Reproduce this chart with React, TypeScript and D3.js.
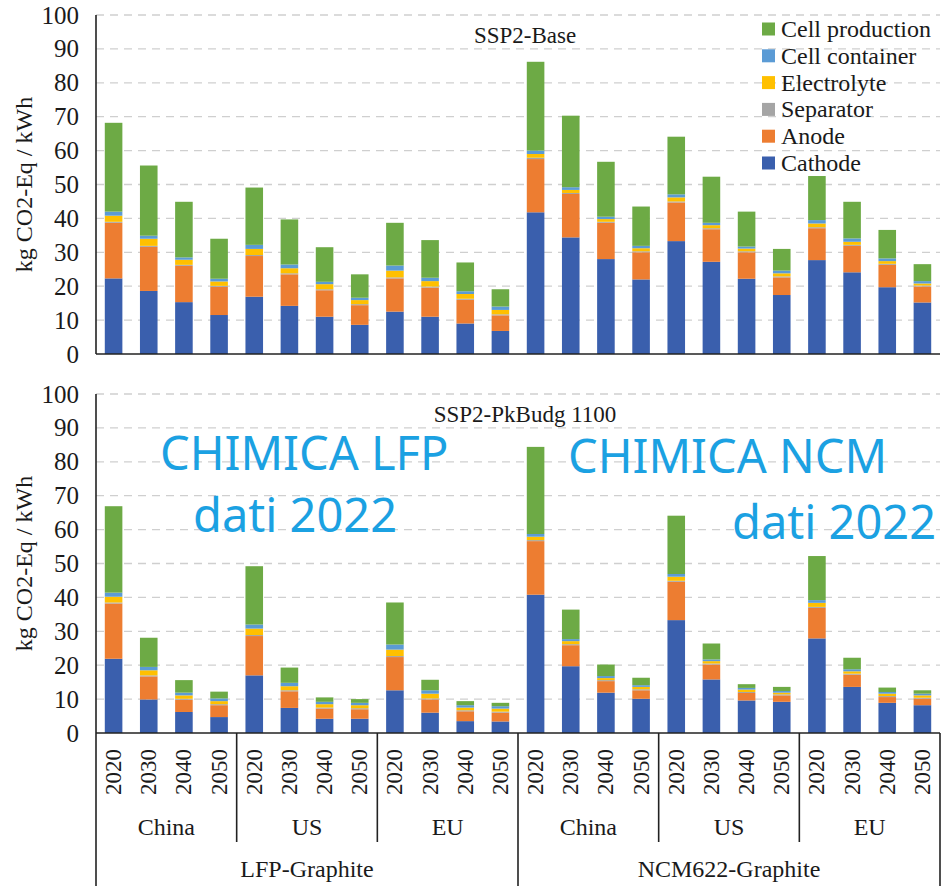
import React from "react";
import * as d3 from "d3";

// ---------- data ----------
const years = ["2020", "2030", "2040", "2050"];
const regions = ["China", "US", "EU"];
const chemistries = ["LFP-Graphite", "NCM622-Graphite"];
const components = ["Cathode", "Anode", "Separator", "Electrolyte", "Cell container", "Cell production"];
const componentColors = ["#3A5FAD", "#ED7D31", "#A5A5A5", "#FFC000", "#5B9BD5", "#6DAA45"];
const yTicks = [0, 10, 20, 30, 40, 50, 60, 70, 80, 90, 100];
const panelTitles = ["SSP2-Base", "SSP2-PkBudg 1100"];

// SSP2-Base (24 bars: LFP China/US/EU x 4 years, then NCM622)
const baseCathode = [22.3, 18.6, 15.3, 11.5, 16.9, 14.2, 11.0, 8.6, 12.5, 11.0, 9.0, 6.8,
  41.8, 34.4, 28.0, 22.0, 33.3, 27.2, 22.2, 17.4, 27.7, 24.1, 19.7, 15.2];
const baseAnode = [16.4, 13.0, 10.7, 8.3, 12.0, 9.3, 7.8, 5.8, 9.8, 8.6, 7.0, 4.6,
  15.7, 12.8, 10.7, 8.0, 11.4, 9.6, 7.8, 5.2, 9.4, 7.8, 6.6, 4.7];
const baseSeparator = [0.3, 0.3, 0.3, 0.3, 0.3, 0.3, 0.3, 0.3, 0.3, 0.3, 0.3, 0.3,
  0.4, 0.3, 0.3, 0.3, 0.3, 0.3, 0.3, 0.3, 0.3, 0.3, 0.3, 0.3];
const baseElectrolyte = [1.8, 2.1, 1.5, 1.3, 1.8, 1.5, 1.5, 1.2, 2.0, 1.6, 1.4, 1.3,
  1.1, 0.9, 0.8, 0.9, 1.2, 0.9, 0.8, 0.9, 1.1, 0.9, 0.8, 0.6];
const baseContainer = [1.2, 0.9, 0.7, 0.8, 1.2, 1.1, 0.7, 0.7, 1.5, 1.0, 0.8, 1.0,
  1.0, 0.8, 0.7, 0.7, 0.9, 0.7, 0.6, 0.8, 1.0, 1.0, 0.8, 0.7];
const baseCellProduction = [26.2, 20.7, 16.4, 11.8, 16.9, 13.3, 10.2, 6.9, 12.6, 11.1, 8.5, 5.1,
  26.2, 21.1, 16.2, 11.6, 17.0, 13.6, 10.3, 6.4, 13.0, 10.8, 8.4, 5.0];

// SSP2-PkBudg 1100
const pkCathode = [21.9, 9.9, 6.2, 4.7, 17.0, 7.4, 4.2, 4.2, 12.6, 6.0, 3.5, 3.4,
  40.8, 19.7, 11.9, 10.1, 33.3, 15.8, 9.6, 9.2, 27.9, 13.6, 8.9, 8.2];
const pkAnode = [16.3, 6.8, 3.6, 3.5, 11.6, 4.9, 3.0, 2.8, 9.8, 3.9, 2.9, 2.6,
  15.8, 6.2, 3.4, 2.5, 11.3, 4.4, 2.2, 1.9, 9.0, 3.6, 1.7, 1.9];
const pkSeparator = [0.3, 0.3, 0.3, 0.3, 0.3, 0.3, 0.3, 0.3, 0.3, 0.3, 0.3, 0.3,
  0.3, 0.3, 0.3, 0.3, 0.3, 0.3, 0.3, 0.3, 0.3, 0.3, 0.3, 0.3];
const pkElectrolyte = [1.7, 1.5, 1.0, 0.9, 1.9, 1.2, 1.0, 0.9, 1.9, 1.4, 0.8, 0.9,
  1.0, 0.9, 0.6, 0.7, 1.2, 0.7, 0.7, 0.5, 1.2, 0.7, 0.7, 0.7];
const pkContainer = [1.2, 1.0, 0.8, 0.8, 1.2, 1.0, 0.7, 0.7, 1.5, 1.0, 0.7, 0.7,
  0.8, 0.6, 0.6, 0.5, 0.8, 0.5, 0.5, 0.5, 0.8, 0.6, 0.5, 0.5];
const pkCellProduction = [25.5, 8.6, 3.7, 2.0, 17.2, 4.5, 1.3, 1.1, 12.4, 3.1, 1.2, 1.0,
  25.7, 8.7, 3.4, 2.2, 17.2, 4.7, 1.1, 1.2, 13.0, 3.4, 1.3, 1.0];

const baseSeries = [baseCathode, baseAnode, baseSeparator, baseElectrolyte, baseContainer, baseCellProduction];
const pkSeries = [pkCathode, pkAnode, pkSeparator, pkElectrolyte, pkContainer, pkCellProduction];

// ---------- layout ----------
const W = 949;
const H = 886;
const X0 = 96;
const X1 = 940;
const serif = "'Liberation Serif', 'Times New Roman', serif";
const sans = "'Noto Sans', 'Open Sans', sans-serif";
const textColor = "#1a1a1a";

const categories: string[] = [];
chemistries.forEach((c) => regions.forEach((r) => years.forEach((y) => categories.push(`${c}|${r}|${y}`))));

const x = d3.scaleBand<string>().domain(categories).range([X0, X1]).paddingInner(0.5).paddingOuter(0.25);

function buildRows(series: number[][]) {
  return categories.map((cat, i) => {
    const row: Record<string, number | string> = { cat };
    components.forEach((comp, k) => (row[comp] = series[k][i]));
    return row;
  });
}

const stacker = d3.stack<Record<string, number | string>>().keys(components);

function Panel({ title, series, yTop, yBottom }: { title: string; series: number[][]; yTop: number; yBottom: number }) {
  const y = d3.scaleLinear().domain([0, 100]).range([yBottom, yTop]);
  const stacked = stacker(buildRows(series));
  const mid = (X0 + X1) / 2;
  return (
    <g>
      {yTicks.filter((t) => t > 0).map((t) => (
        <line key={"g" + t} x1={X0} x2={X1} y1={y(t)} y2={y(t)} stroke="#cfcfcf" strokeWidth={1.3} strokeDasharray="8,6" />
      ))}
      {stacked.map((layer, k) => (
        <g key={components[k]} fill={componentColors[k]}>
          {layer.map((d, i) => (
            <rect key={i} x={x(categories[i])} width={x.bandwidth()} y={y(d[1])} height={Math.max(0, y(d[0]) - y(d[1]))} />
          ))}
        </g>
      ))}
      <line x1={X0} x2={X0} y1={yTop} y2={yBottom} stroke="#222" strokeWidth={1.6} />
      <line x1={X0} x2={X1} y1={yBottom} y2={yBottom} stroke="#222" strokeWidth={1.6} />
      {yTicks.map((t) => (
        <text key={"t" + t} x={79} y={y(t)} textAnchor="end" dominantBaseline="central" fontFamily={serif} fontSize={25} fill={textColor}>
          {t}
        </text>
      ))}
      <text transform={`translate(24,${(yTop + yBottom) / 2}) rotate(-90)`} textAnchor="middle" dominantBaseline="central" fontFamily={serif} fontSize={24} fill={textColor}>
        kg CO2-Eq / kWh
      </text>
      <text x={mid + 7} y={y(90) - 6} textAnchor="middle" fontFamily={serif} fontSize={23} fill={textColor}>
        {title}
      </text>
    </g>
  );
}

export default function App() {
  const yAxisBottom = 733;
  const step = x.step();
  const regionWidth = step * years.length;
  const chemWidth = regionWidth * regions.length;
  return (
    <svg width={W} height={H} style={{ position: "absolute", left: 0, top: 0, background: "#fff" }} xmlns="http://www.w3.org/2000/svg">
      <rect width={W} height={H} fill="#fff" />
      <Panel title={panelTitles[0]} series={baseSeries} yTop={15} yBottom={354} />
      <Panel title={panelTitles[1]} series={pkSeries} yTop={394} yBottom={yAxisBottom} />

      {/* legend */}
      {components.slice().reverse().map((comp, i) => {
        const k = components.length - 1 - i;
        const cy = 29 + i * 26.8;
        return (
          <g key={comp}>
            <rect x={762} y={cy - 6.5} width={13} height={13} fill={componentColors[k]} />
            <text x={781} y={cy} dominantBaseline="central" fontFamily={serif} fontSize={24} fill={textColor}>
              {comp}
            </text>
          </g>
        );
      })}

      {/* category axis table */}
      {categories.map((cat) => {
        const yr = cat.split("|")[2];
        const cx = (x(cat) as number) + x.bandwidth() / 2;
        return (
          <text key={"y" + cat} transform={`translate(${cx},749) rotate(-90)`} textAnchor="end" dominantBaseline="central" fontFamily={serif} fontSize={23} fill={textColor}>
            {yr}
          </text>
        );
      })}
      {chemistries.map((c, ci) =>
        regions.map((r, ri) => {
          const left = X0 + ci * chemWidth + ri * regionWidth;
          return (
            <text key={c + r} x={left + regionWidth / 2} y={835} textAnchor="middle" fontFamily={serif} fontSize={24} fill={textColor}>
              {r}
            </text>
          );
        })
      )}
      {chemistries.map((c, ci) => (
        <text key={c} x={X0 + ci * chemWidth + chemWidth / 2} y={877} textAnchor="middle" fontFamily={serif} fontSize={24} fill={textColor}>
          {c}
        </text>
      ))}
      {d3.range(0, regions.length * chemistries.length + 1).map((j) => {
        const xx = X0 + j * regionWidth;
        const full = j % regions.length === 0;
        return <line key={"s" + j} x1={xx} x2={xx} y1={yAxisBottom} y2={full ? H : 842} stroke="#222" strokeWidth={1.6} />;
      })}

      {/* overlay annotations */}
      <g fontFamily={sans} fontSize={47} fill="#1BA1E2">
        <text x={160} y={470}>CHIMICA LFP</text>
        <text x={193} y={532}>dati 2022</text>
        <text x={568} y={473}>CHIMICA NCM</text>
        <text x={732} y={539}>dati 2022</text>
      </g>
    </svg>
  );
}
